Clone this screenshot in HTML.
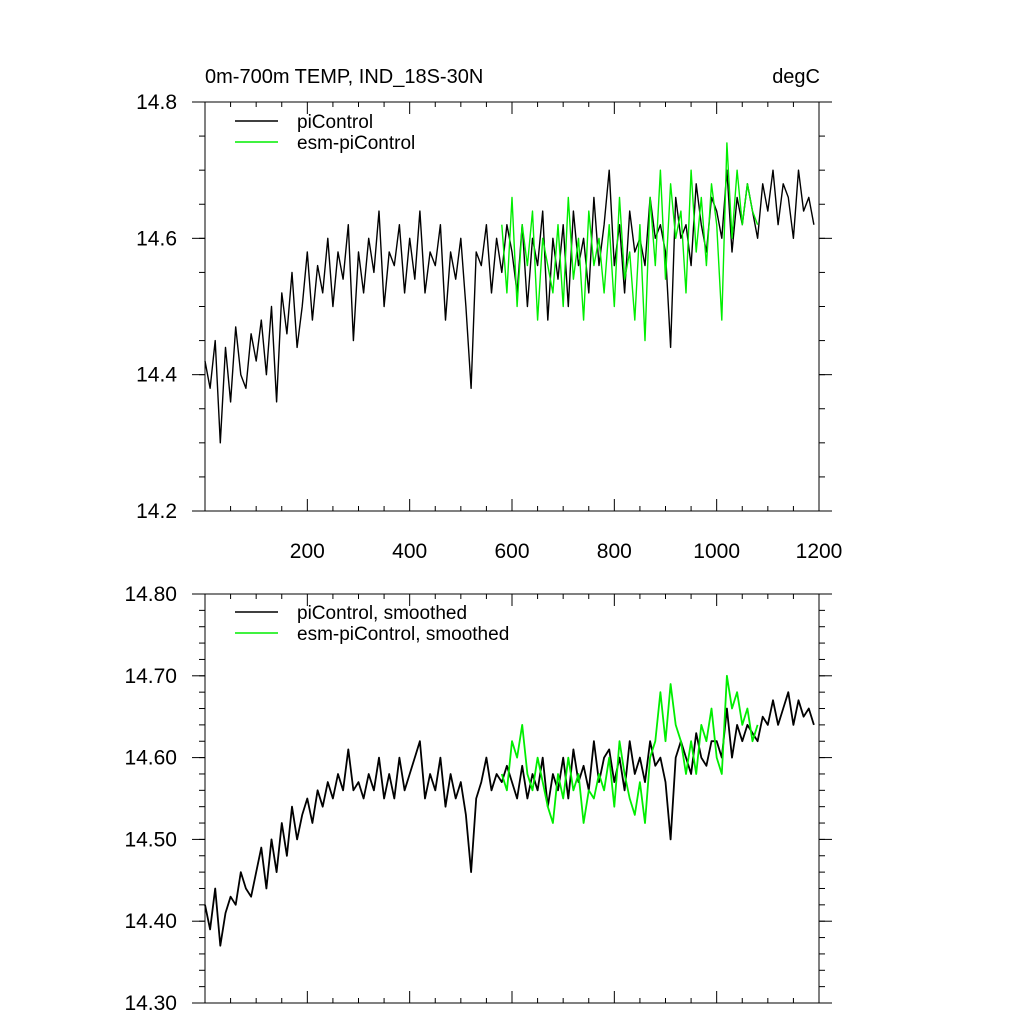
<!DOCTYPE html>
<html><head><meta charset="utf-8"><style>
html,body{margin:0;padding:0;background:#fff;}
svg text{font-family:"Liberation Sans",Arial,sans-serif;}
</style></head><body>
<svg id="c" width="1024" height="1024" viewBox="0 0 1024 1024" xmlns="http://www.w3.org/2000/svg">
<text x="205" y="83" font-size="20">0m-700m TEMP, IND_18S-30N</text>
<text x="820" y="83" font-size="20" text-anchor="end">degC</text>
<g id="p1"></g>
<g id="p2"></g>
</svg>
<script>
const piYearsStep = 10;
const piRaw = [14.42,14.38,14.45,14.30,14.44,14.36,14.47,14.40,14.38,14.46,
14.42,14.48,14.40,14.50,14.36,14.52,14.46,14.55,14.44,14.50,
14.58,14.48,14.56,14.52,14.60,14.50,14.58,14.54,14.62,14.45,
14.58,14.52,14.60,14.55,14.64,14.50,14.58,14.56,14.62,14.52,
14.60,14.54,14.64,14.52,14.58,14.56,14.62,14.48,14.58,14.54,
14.60,14.50,14.38,14.58,14.56,14.62,14.52,14.60,14.55,14.62,
14.58,14.52,14.62,14.50,14.60,14.56,14.64,14.48,14.60,14.54,
14.62,14.50,14.64,14.56,14.60,14.52,14.66,14.56,14.62,14.70,
14.56,14.62,14.52,14.64,14.58,14.60,14.56,14.66,14.60,14.62,
14.58,14.44,14.66,14.60,14.62,14.56,14.68,14.62,14.58,14.66,
14.64,14.60,14.70,14.58,14.66,14.62,14.68,14.64,14.60,14.68,
14.64,14.70,14.62,14.68,14.66,14.60,14.70,14.64,14.66,14.62];
const esmStart = 580;
const esmRaw = [14.62,14.52,14.66,14.50,14.62,14.56,14.64,14.48,14.60,14.56,
14.52,14.62,14.50,14.66,14.54,14.60,14.48,14.64,14.56,14.60,
14.52,14.62,14.50,14.66,14.54,14.58,14.48,14.62,14.45,14.66,
14.56,14.70,14.54,14.68,14.60,14.64,14.52,14.70,14.58,14.66,
14.56,14.68,14.62,14.48,14.74,14.60,14.70,14.62,14.68,14.64,14.62];
const piSmooth = [14.42,14.39,14.44,14.37,14.41,14.43,14.42,14.46,14.44,14.43,
14.46,14.49,14.44,14.50,14.46,14.52,14.48,14.54,14.50,14.53,
14.55,14.52,14.56,14.54,14.57,14.55,14.58,14.56,14.61,14.56,
14.57,14.55,14.58,14.56,14.60,14.55,14.58,14.55,14.60,14.56,
14.58,14.60,14.62,14.55,14.58,14.56,14.60,14.54,14.58,14.55,
14.57,14.53,14.46,14.55,14.57,14.60,14.56,14.58,14.57,14.59,
14.57,14.55,14.59,14.55,14.58,14.56,14.60,14.54,14.58,14.56,
14.60,14.55,14.61,14.57,14.59,14.56,14.62,14.57,14.60,14.61,
14.57,14.60,14.56,14.62,14.58,14.60,14.57,14.62,14.59,14.60,
14.57,14.50,14.60,14.62,14.60,14.58,14.63,14.60,14.59,14.62,
14.62,14.60,14.66,14.60,14.64,14.62,14.64,14.63,14.62,14.65,
14.64,14.67,14.64,14.66,14.68,14.64,14.67,14.65,14.66,14.64];
const esmSmooth = [14.58,14.56,14.62,14.60,14.64,14.58,14.56,14.60,14.57,14.54,
14.52,14.58,14.55,14.60,14.56,14.58,14.52,14.56,14.55,14.58,
14.56,14.60,14.54,14.62,14.58,14.55,14.53,14.57,14.52,14.60,
14.62,14.68,14.62,14.69,14.64,14.62,14.58,14.62,14.58,14.64,
14.62,14.66,14.60,14.58,14.70,14.66,14.68,14.64,14.66,14.62,14.64];
const xTickLabels = [200,400,600,800,1000,1200];
const topYTicks = [14.2,14.4,14.6,14.8];
const botYTicks = [14.30,14.40,14.50,14.60,14.70,14.80];

const NS="http://www.w3.org/2000/svg";
const X0=205,X1=819;
function xs(v){return X0+(v/1200)*(X1-X0);}
function mk(tag,attrs,parent){const e=document.createElementNS(NS,tag);for(const k in attrs)e.setAttribute(k,attrs[k]);parent.appendChild(e);return e;}

function panel(g,yTop,yBot,ymin,ymax,yticks,minorStep,dec,showX,series,legend,legendY,sw){
  const ys=v=>yBot-(v-ymin)/(ymax-ymin)*(yBot-yTop);
  series.forEach(s=>{
    let d='';
    s.data.forEach((v,i)=>{d+=(i?'L':'M')+xs(s.start+i*piYearsStep).toFixed(1)+','+ys(v).toFixed(1);});
    const p=mk('path',{d:d,fill:'none',stroke:s.color,'stroke-width':sw,'stroke-linejoin':'round'},g);
    
    
  });
  const f=mk('rect',{x:X0,y:yTop,width:X1-X0,height:yBot-yTop,fill:'none',stroke:'#000','stroke-width':1},g);
  
  
  yticks.forEach(t=>{
    const y=ys(t);
    mk('line',{x1:X0-13,x2:X0,y1:y,y2:y,stroke:'#000'},g);
    mk('line',{x1:X1,x2:X1+13,y1:y,y2:y,stroke:'#000'},g);
    const tx=mk('text',{x:X0-28,y:y+7,'font-size':21,'text-anchor':'end'},g);
    tx.textContent=t.toFixed(dec);
    
    
  });
  for(let v=ymin;v<=ymax+1e-9;v+=minorStep){
    const y=ys(v);
    mk('line',{x1:X0-6,x2:X0,y1:y,y2:y,stroke:'#000'},g);
    mk('line',{x1:X1,x2:X1+6,y1:y,y2:y,stroke:'#000'},g);
  }
  for(let v=0;v<=1200;v+=50){
    const x=xs(v),L=(v%200===0)?12:5;
    mk('line',{x1:x,x2:x,y1:yTop,y2:yTop+L,stroke:'#000'},g);
    mk('line',{x1:x,x2:x,y1:yBot,y2:yBot-L,stroke:'#000'},g);
  }
  if(showX){
    xTickLabels.forEach(t=>{
      const tx=mk('text',{x:xs(t),y:yBot+47,'font-size':21,'text-anchor':'middle'},g);
      tx.textContent=t;
      
      
    });
  }
  legend.forEach((l,i)=>{
    const y=legendY+i*21;
    const ln=mk('line',{x1:235,x2:278,y1:y,y2:y,stroke:l.color,'stroke-width':1.5},g);
    
    
    const tx=mk('text',{x:297,y:y+7,'font-size':19},g);
    tx.textContent=l.label;
    
    
  });
}
panel(document.getElementById('p1'),102,511,14.2,14.8,topYTicks,0.05,1,true,
  [{data:piRaw,start:0,color:'#000',name:'picontrol-line'},{data:esmRaw,start:esmStart,color:'#00ee00',name:'esm-picontrol-line'}],
  [{label:'piControl',color:'#000'},{label:'esm-piControl',color:'#00ee00'}],121,1.4);
panel(document.getElementById('p2'),594,1003,14.3,14.8,botYTicks,0.02,2,false,
  [{data:piSmooth,start:0,color:'#000',name:'picontrol-smoothed-line'},{data:esmSmooth,start:esmStart,color:'#00ee00',name:'esm-picontrol-smoothed-line'}],
  [{label:'piControl, smoothed',color:'#000'},{label:'esm-piControl, smoothed',color:'#00ee00'}],612,1.8);
</script>
</body></html>
